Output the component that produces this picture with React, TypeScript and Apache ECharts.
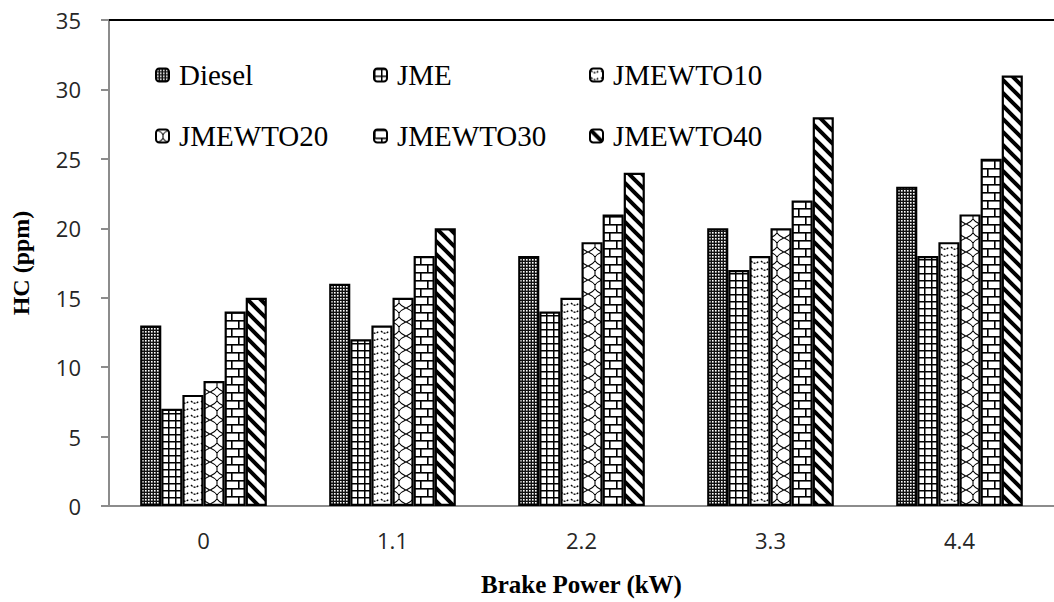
import React, { useEffect, useRef } from "react";
import * as echarts from "echarts";

const categories = ["0", "1.1", "2.2", "3.3", "4.4"];
const seriesNames = ["Diesel", "JME", "JMEWTO10", "JMEWTO20", "JMEWTO30", "JMEWTO40"];
const diesel = [13, 16, 18, 20, 23];
const jme = [7, 12, 14, 17, 18];
const jmewto10 = [8, 13, 15, 18, 19];
const jmewto20 = [9, 15, 19, 20, 21];
const jmewto30 = [14, 18, 21, 22, 25];
const jmewto40 = [15, 20, 24, 28, 31];
const seriesValues = [diesel, jme, jmewto10, jmewto20, jmewto30, jmewto40];
const yTicks = { min: 0, max: 35, interval: 5 };

type Draw = (ctx: CanvasRenderingContext2D) => void;

function tile(w: number, h: number, draw: Draw) {
  const c = document.createElement("canvas");
  c.width = w;
  c.height = h;
  const ctx = c.getContext("2d")!;
  ctx.fillStyle = "#fff";
  ctx.fillRect(0, 0, w, h);
  ctx.fillStyle = "#000";
  ctx.strokeStyle = "#000";
  draw(ctx);
  return { image: c, repeat: "repeat", imageWidth: w, imageHeight: h } as any;
}

function makePatterns() {
  const dots = tile(3, 3, (ctx) => {
    ctx.fillStyle = "#111";
    ctx.fillRect(0, 0, 3, 3);
    ctx.fillStyle = "#fff";
    ctx.fillRect(1, 1, 1.6, 1.6);
  });
  const grid = tile(7, 7, (ctx) => {
    ctx.fillRect(0, 0, 7, 1.5);
    ctx.fillRect(0, 0, 1.5, 7);
  });
  const wave = tile(10, 7, (ctx) => {
    ctx.lineWidth = 1.3;
    ctx.setLineDash([2, 1.2]);
    ctx.beginPath();
    ctx.moveTo(1, 2);
    ctx.quadraticCurveTo(5, 6.5, 9, 2);
    ctx.stroke();
  });
  const trellis = tile(14, 14, (ctx) => {
    ctx.lineWidth = 1.1;
    ctx.beginPath();
    ctx.moveTo(0, 0);
    ctx.quadraticCurveTo(5, 2, 7, 5);
    ctx.lineTo(7, 9);
    ctx.quadraticCurveTo(5, 12, 0, 14);
    ctx.moveTo(14, 0);
    ctx.quadraticCurveTo(9, 2, 7, 5);
    ctx.moveTo(7, 9);
    ctx.quadraticCurveTo(9, 12, 14, 14);
    ctx.stroke();
  });
  const brick = tile(14, 16, (ctx) => {
    ctx.fillRect(0, 0, 14, 1.6);
    ctx.fillRect(0, 8, 14, 1.6);
    ctx.fillRect(0, 0, 1.6, 8);
    ctx.fillRect(7, 8, 1.6, 8);
  });
  const stripes = tile(13, 13, (ctx) => {
    ctx.lineWidth = 4;
    ctx.beginPath();
    for (const off of [-13, 0, 13]) {
      ctx.moveTo(off - 6, -6);
      ctx.lineTo(off + 19, 19);
    }
    ctx.stroke();
  });
  return [dots, grid, wave, trellis, brick, stripes];
}

const legendPos = [
  { left: 155, top: 60 },
  { left: 373, top: 60 },
  { left: 589, top: 60 },
  { left: 155, top: 121 },
  { left: 373, top: 121 },
  { left: 589, top: 121 },
];

export default function App() {
  const ref = useRef<HTMLDivElement>(null);
  useEffect(() => {
    document.body.style.margin = "0";
    const chart = echarts.init(ref.current!, null, { renderer: "svg" });
    const patterns = makePatterns();
    chart.setOption({
      animation: false,
      backgroundColor: "#fff",
      grid: { left: 109, top: 20, width: 958, height: 487 },
      legend: seriesNames.map((n, i) => ({
        data: [n],
        left: legendPos[i].left,
        top: legendPos[i].top,
        padding: 0,
        itemWidth: 13,
        itemHeight: 13,
        selectedMode: false,
        textStyle: {
          fontFamily: "Liberation Serif",
          fontSize: 29,
          color: "#000",
          lineHeight: 30,
          padding: [0, 0, 0, 5],
        },
      })),
      xAxis: {
        type: "category",
        data: categories,
        name: "Brake Power (kW)",
        nameLocation: "middle",
        nameGap: 66,
        nameTextStyle: { fontFamily: "Liberation Serif", fontWeight: "bold", fontSize: 25, color: "#000" },
        axisLine: { lineStyle: { color: "#8c8c8c", width: 2 } },
        axisTick: { show: false },
        axisLabel: { fontFamily: "Open Sans", fontSize: 22, color: "#262626", margin: 23 },
      },
      yAxis: {
        type: "value",
        min: yTicks.min,
        max: yTicks.max,
        interval: yTicks.interval,
        name: "HC (ppm)",
        nameLocation: "middle",
        nameGap: 76,
        nameTextStyle: { fontFamily: "Liberation Serif", fontWeight: "bold", fontSize: 24, color: "#000" },
        splitLine: { show: false },
        axisLine: { show: true, lineStyle: { color: "#8c8c8c", width: 2 } },
        axisTick: { show: true, length: 8, lineStyle: { color: "#8c8c8c", width: 2 } },
        axisLabel: { fontFamily: "Open Sans", fontSize: 22, color: "#262626", margin: 28 },
      },
      graphic: [
        {
          type: "line",
          shape: { x1: 109, y1: 20, x2: 1054, y2: 20 },
          style: { stroke: "#000", lineWidth: 2 },
          z: 10,
        },
      ],
      series: seriesNames.map((n, i) => ({
        name: n,
        type: "bar",
        data: seriesValues[i],
        barGap: "0%",
        barCategoryGap: "33%",
        itemStyle: { color: patterns[i], borderColor: "#000", borderWidth: 2.2 },
      })),
    });
    return () => chart.dispose();
  }, []);
  return <div ref={ref} style={{ width: 1054, height: 602 }} />;
}
